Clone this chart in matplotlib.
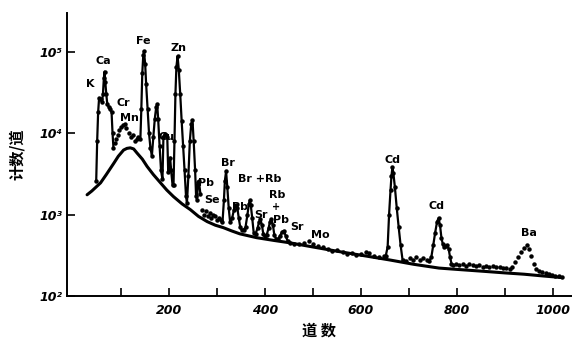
import numpy as np
import matplotlib.pyplot as plt

plt.rcParams['font.family'] = ['DejaVu Sans', 'Noto Sans CJK SC']

# --- continuum background ---
bg_ch = [30, 40, 58, 70, 86, 95, 106, 113, 120, 127, 134, 145, 155, 168, 183, 196, 210, 228, 245, 262, 280,
         297, 314, 331, 348, 365, 383, 420, 452, 500, 556, 610, 660, 710, 763, 810, 860, 900, 940, 980, 1020]
bg_cnt = [1750, 1950, 2450, 3100, 4300, 5200, 6200, 6500, 6600, 6400, 5700, 4800, 3900, 3100, 2450, 2000, 1660, 1350, 1150, 950, 820,
          740, 690, 630, 580, 550, 520, 480, 450, 400, 350, 310, 277, 245, 220, 210, 200, 192, 185, 176, 168]

# --- measured spectrum, connected parts ---
kca_ch = [49, 51, 53, 55, 58, 61, 63, 65, 66.5, 68, 70, 72, 75, 78, 81, 83, 85]
kca_cnt = [2600, 8000, 18000, 27000, 26000, 24000, 30000, 48000, 57000, 42000, 30000, 23000, 21000, 20000, 18000, 10000, 6500]

fezn_ch = [141, 143, 145, 147, 148.5, 151, 153, 156, 159, 162, 165, 168, 171, 174, 176, 178, 181, 184, 187,
           189, 192, 195, 197, 199, 201, 203, 205, 208, 210, 212, 214, 216, 218.5, 221, 224, 227, 230, 233, 236, 238,
           241, 244, 247, 249.5, 252, 255, 257, 259, 261, 263, 266]
fezn_cnt = [8500, 20000, 55000, 90000, 102000, 70000, 40000, 20000, 10000, 6500, 5300, 9000, 15000, 21000, 22500, 15000, 7000, 3500, 2700,
            9000, 9800, 9500, 9000, 3300, 3800, 5000, 3500, 2300, 2300, 8000, 30000, 65000, 88000, 60000, 30000, 14000, 7000, 3500, 1700, 1400,
            3000, 8000, 13000, 14500, 8000, 3500, 1700, 1500, 2500, 2550, 1800]

brsr_ch = [312, 315, 317, 319.5, 322, 325, 328, 332, 336, 340, 343, 346, 349, 352, 356, 360, 364, 367, 369, 371, 374, 377,
           381, 385, 388, 391, 394, 397, 400, 404, 408, 411, 414, 417, 420, 424, 428, 432, 436, 440, 444, 448, 452]
brsr_cnt = [800, 1500, 2600, 3400, 2200, 1200, 800, 900, 1150, 1300, 1200, 900, 700, 650, 650, 700, 1000, 1350, 1500, 1300, 900, 600,
            580, 680, 800, 880, 750, 580, 540, 560, 680, 820, 880, 750, 560, 500, 500, 550, 610, 630, 540, 470, 450]

cd1_ch = [652, 656, 659, 662, 664, 666, 668, 671, 675, 679, 683, 687]
cd1_cnt = [310, 400, 1000, 2000, 3000, 3800, 3200, 2200, 1200, 700, 420, 280]

cd2_ch = [743, 747, 751, 755, 759, 762, 765, 768, 771, 774, 777, 780, 783, 786, 789, 792]
cd2_cnt = [270, 300, 420, 600, 820, 900, 750, 520, 430, 400, 410, 420, 380, 300, 250, 240]

# --- measured spectrum, loose points ---
crmn_ch = [88, 91, 94, 97, 100, 104, 108, 112, 117, 121, 125, 129, 133, 137]
crmn_cnt = [7500, 8500, 9500, 11000, 12000, 12500, 13000, 11500, 10000, 9000, 9500, 8000, 8500, 9000]

se_ch = [269, 273, 277, 281, 285, 289, 293, 297, 301, 305, 309]
se_cnt = [1150, 1000, 1100, 950, 1050, 900, 1000, 950, 850, 900, 850]

mo_ch = [462, 472, 482, 492, 500, 510, 521, 531, 541, 551, 562, 572, 582, 591, 600, 610, 618, 628, 639, 648]
mo_cnt = [440, 430, 450, 470, 430, 410, 400, 380, 360, 370, 350, 330, 340, 320, 330, 345, 340, 310, 300, 310]

mid_ch = [695, 702, 709, 716, 723, 730, 737]
mid_cnt = [270, 290, 280, 300, 280, 290, 280]

ba_ch = [798, 805, 812, 819, 826, 833, 840, 847, 854, 861, 868, 875, 882, 889, 896, 903,
         910, 916, 922, 928, 934, 940, 946, 950, 955, 960, 966, 972, 978, 985, 992, 998, 1005, 1012, 1019]
ba_cnt = [250, 240, 245, 235, 245, 240, 235, 240, 230, 235, 228, 232, 225, 228, 222, 220,
          215, 230, 260, 300, 350, 390, 425, 380, 310, 250, 215, 200, 195, 190, 185, 182, 178, 175, 172]

# element labels
lab_txt = ['K', 'Ca', 'Cr', 'Mn', 'Fe', 'Zn', 'Cu', 'Pb', 'Se', 'Br', 'Pb', 'Br +Rb', 'Rb', '+', 'Pb', 'Sr', 'Sr', 'Mo', 'Cd', 'Cd', 'Ba']
lab_ch = [37, 64, 106, 118, 148, 220, 196, 278, 290, 324, 349, 390, 425, 424, 434, 392, 468, 516, 667, 757, 950]
lab_cnt = [40000, 76000, 23500, 15500, 135000, 112000, 9000, 2450, 1500, 4300, 1250, 2750, 1750, 1250, 860, 1000, 700, 560, 4700, 1260, 590]

ytick_vals = [100, 1000, 10000, 100000]
ytick_labels = ['10²', '10³', '10⁴', '10⁵']

fig = plt.figure(figsize=(5.72, 3.49), dpi=100)
ax = fig.add_axes([0.117, 0.152, 0.883, 0.811])

ax.plot(bg_ch, bg_cnt, color='black', lw=2.2, solid_capstyle='round', solid_joinstyle='round')
for xs, ys in [(kca_ch, kca_cnt), (fezn_ch, fezn_cnt), (brsr_ch, brsr_cnt), (cd1_ch, cd1_cnt), (cd2_ch, cd2_cnt)]:
    ax.plot(xs, ys, color='black', lw=1.6, marker='o', markersize=2.2)
for xs, ys in [(crmn_ch, crmn_cnt), (se_ch, se_cnt), (mo_ch, mo_cnt), (mid_ch, mid_cnt), (ba_ch, ba_cnt)]:
    ax.plot(xs, ys, ls='none', color='black', marker='o', markersize=2.2)

for t, x, y in zip(lab_txt, lab_ch, lab_cnt):
    ax.text(x, y, t, fontsize=7 if t == '+' else 8, fontweight='bold', ha='center', va='center')

ax.set_yscale('log')
ax.set_xlim(-12, 1040)
ax.set_ylim(100, 300000)
ax.set_xticks([200, 400, 600, 800, 1000])
ax.set_xticks([100, 300, 500, 700, 900], minor=True)
ax.set_yticks(ytick_vals)
ax.set_yticklabels(ytick_labels)
ax.yaxis.set_minor_locator(plt.NullLocator())
ax.tick_params(axis='both', which='both', direction='in', length=6, width=1.2, labelsize=9)
ax.tick_params(axis='x', pad=6)
for lbl in ax.get_xticklabels() + ax.get_yticklabels():
    lbl.set_fontweight('bold')
    lbl.set_fontstyle('italic')
ax.spines['top'].set_visible(False)
ax.spines['right'].set_visible(False)
ax.spines['left'].set_linewidth(1.4)
ax.spines['bottom'].set_linewidth(1.4)

ax.set_xlabel('道 数', fontsize=11, fontweight='bold', family=['Noto Sans CJK SC', 'DejaVu Sans'], labelpad=4)
ax.set_ylabel('计数/道', fontsize=11, fontweight='bold', family=['Noto Sans CJK SC', 'DejaVu Sans'], labelpad=10)

fig.savefig('out.png', dpi=100)
